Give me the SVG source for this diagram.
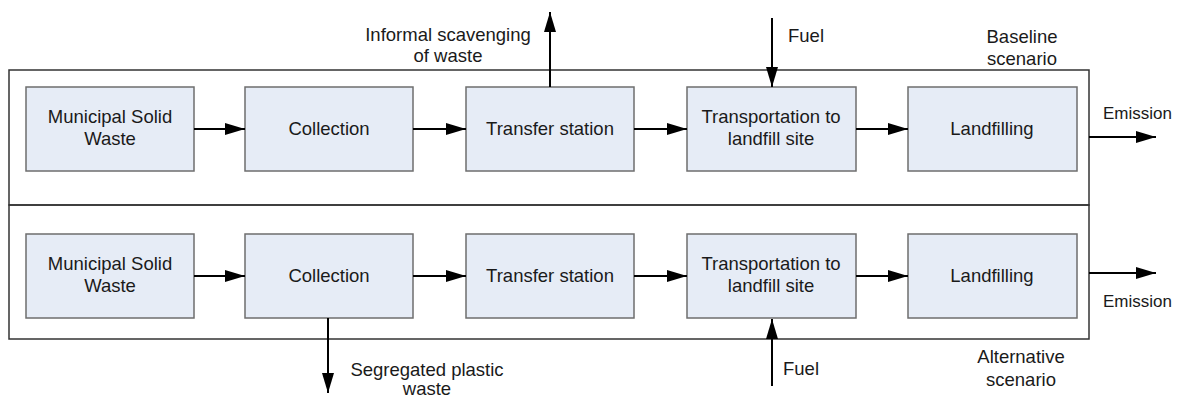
<svg xmlns="http://www.w3.org/2000/svg" width="1182" height="399" viewBox="0 0 1182 399">
  <style>
    .frame { fill: none; stroke: #333333; stroke-width: 1.5; }
    .box { fill: #e6ecf6; stroke: #6e6e6e; stroke-width: 1.5; }
    .lbl { font-family: "Liberation Sans", Arial, sans-serif; font-size: 18.5px; fill: #1a1a1a; text-anchor: middle; }
    .note { font-family: "Liberation Sans", Arial, sans-serif; font-size: 18.5px; fill: #1a1a1a; }
    .small { font-size: 17px; }
    .mid { text-anchor: middle; }
    .flow { stroke: #000000; stroke-width: 2; fill: none; marker-end: url(#head); }
  </style>
  <defs>
    <marker id="head" viewBox="0 0 20 12" refX="20" refY="6" markerWidth="20" markerHeight="12" markerUnits="userSpaceOnUse" orient="auto">
      <path d="M0,0 L20,6 L0,12 Z" fill="#000000"/>
    </marker>
  </defs>

  <!-- scenario frames -->
  <g id="baseline-frame">
    <rect class="frame" x="9" y="70" width="1080" height="135"/>
    <text class="note mid" x="1022" y="43">Baseline</text>
    <text class="note mid" x="1022" y="65">scenario</text>
  </g>
  <g id="alternative-frame">
    <rect class="frame" x="9" y="205" width="1080" height="134"/>
    <text class="note mid" x="1021" y="363">Alternative</text>
    <text class="note mid" x="1021" y="386">scenario</text>
  </g>

  <!-- baseline row -->
  <g id="b-msw">
    <rect class="box" x="26" y="87" width="168" height="84"/>
    <text class="lbl" x="110" y="123">Municipal Solid</text>
    <text class="lbl" x="110" y="145">Waste</text>
  </g>
  <g id="b-collection">
    <rect class="box" x="245" y="87" width="168" height="84"/>
    <text class="lbl" x="329" y="135">Collection</text>
  </g>
  <g id="b-transfer">
    <rect class="box" x="466" y="87" width="168" height="84"/>
    <text class="lbl" x="550" y="135">Transfer station</text>
  </g>
  <g id="b-transport">
    <rect class="box" x="687" y="87" width="169" height="84"/>
    <text class="lbl" x="771" y="123">Transportation to</text>
    <text class="lbl" x="771" y="145">landfill site</text>
  </g>
  <g id="b-landfill">
    <rect class="box" x="908" y="87" width="169" height="84"/>
    <text class="lbl" x="992" y="135">Landfilling</text>
  </g>

  <!-- alternative row -->
  <g id="a-msw">
    <rect class="box" x="26" y="234" width="168" height="84"/>
    <text class="lbl" x="110" y="270">Municipal Solid</text>
    <text class="lbl" x="110" y="292">Waste</text>
  </g>
  <g id="a-collection">
    <rect class="box" x="245" y="234" width="168" height="84"/>
    <text class="lbl" x="329" y="282">Collection</text>
  </g>
  <g id="a-transfer">
    <rect class="box" x="466" y="234" width="168" height="84"/>
    <text class="lbl" x="550" y="282">Transfer station</text>
  </g>
  <g id="a-transport">
    <rect class="box" x="687" y="234" width="169" height="84"/>
    <text class="lbl" x="771" y="270">Transportation to</text>
    <text class="lbl" x="771" y="292">landfill site</text>
  </g>
  <g id="a-landfill">
    <rect class="box" x="908" y="234" width="169" height="84"/>
    <text class="lbl" x="992" y="282">Landfilling</text>
  </g>

  <!-- external labels -->
  <g id="labels">
    <text class="lbl" x="448" y="41">Informal scavenging</text>
    <text class="lbl" x="448" y="62">of waste</text>
    <text class="note" x="788" y="42">Fuel</text>
    <text class="note" x="783" y="375">Fuel</text>
    <text class="note small" x="1103" y="119">Emission</text>
    <text class="note small" x="1103" y="307">Emission</text>
    <text class="lbl" x="427" y="376">Segregated plastic</text>
    <text class="lbl" x="427" y="395">waste</text>
  </g>

  <!-- connectors -->
  <g id="connectors">
    <line class="flow" x1="194" y1="129" x2="245" y2="129"/>
    <line class="flow" x1="413" y1="129" x2="466" y2="129"/>
    <line class="flow" x1="634" y1="129" x2="687" y2="129"/>
    <line class="flow" x1="856" y1="129" x2="908" y2="129"/>
    <line class="flow" x1="550" y1="87" x2="550" y2="12"/>
    <line class="flow" x1="772" y1="18" x2="772" y2="87"/>
    <line class="flow" x1="1089" y1="137" x2="1156" y2="137"/>

    <line class="flow" x1="194" y1="276" x2="245" y2="276"/>
    <line class="flow" x1="413" y1="276" x2="466" y2="276"/>
    <line class="flow" x1="634" y1="276" x2="687" y2="276"/>
    <line class="flow" x1="856" y1="276" x2="908" y2="276"/>
    <line class="flow" x1="328" y1="318" x2="328" y2="393"/>
    <line class="flow" x1="772" y1="386" x2="772" y2="319"/>
    <line class="flow" x1="1089" y1="273" x2="1156" y2="273"/>
  </g>
</svg>
